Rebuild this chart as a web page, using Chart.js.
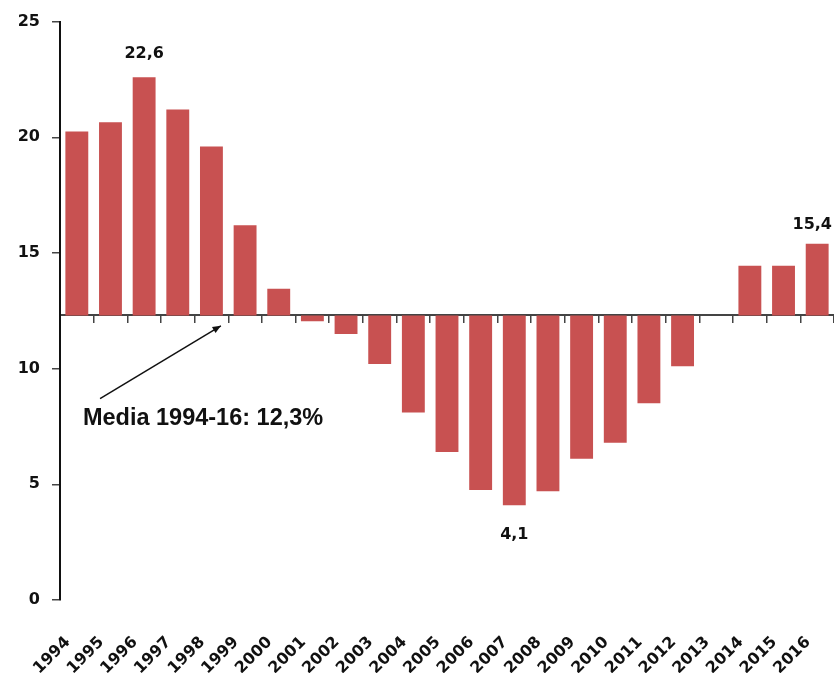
<!DOCTYPE html>
<html>
<head>
<meta charset="utf-8">
<script src="https://cdn.jsdelivr.net/npm/chart.js@4/dist/chart.umd.min.js"></script>
<style>
  html, body { margin: 0; padding: 0; background: #fff; }
  #wrap { width: 834px; height: 673px; }
</style>
</head>
<body>
<div id="wrap"><canvas id="myChart" width="834" height="673"></canvas></div>
<script>
const years = ["1994", "1995", "1996", "1997", "1998", "1999", "2000", "2001",
  "2002", "2003", "2004", "2005", "2006", "2007", "2008", "2009", "2010",
  "2011", "2012", "2013", "2014", "2015", "2016"];
const values = [20.25, 20.65, 22.6, 21.2, 19.6, 16.2, 13.45, 12.05, 11.5, 10.2,
  8.1, 6.4, 4.75, 4.1, 4.7, 6.1, 6.8, 8.5, 10.1, null, 14.45, 14.45, 15.4];
const mean = 12.3;
const yTicks = [0, 5, 10, 15, 20, 25];
const labeledYears = ["1996", "2007", "2016"];
const noteText = "Media 1994-16: 12,3%";

const barColor = "#c85151";
const tickFont = { family: "DejaVu Sans", weight: "bold", size: 16 };

// bars float between the mean and the yearly value
const floating = values.map(function (v) {
  return v === null ? null : [mean, v];
});

const notePlugin = {
  id: "notes",
  afterDraw: function (chart) {
    const ctx = chart.ctx;
    const x = chart.scales.x;
    const y = chart.scales.y;
    ctx.save();

    // value labels
    ctx.font = "bold 16px 'DejaVu Sans'";
    ctx.fillStyle = "#111";
    ctx.textAlign = "center";
    ctx.textBaseline = "middle";
    labeledYears.forEach(function (yr) {
      const i = years.indexOf(yr);
      const v = values[i];
      const txt = v.toFixed(1).replace(".", ",");
      const w = ctx.measureText(txt).width;
      let px = Math.min(x.getPixelForValue(i), chart.width - w / 2 - 2);
      let py;
      if (v >= mean) py = y.getPixelForValue(v) - (i == years.length - 1 ? 19 : 23);
      else py = y.getPixelForValue(v) + 30;
      ctx.fillText(txt, px, py);
    });

    // arrow pointing at the mean line
    const x0 = x.getPixelForValue(0.69), y0 = y.getPixelForValue(8.7);
    const x1 = x.getPixelForValue(4.28), y1 = y.getPixelForValue(11.85);
    ctx.strokeStyle = "#111";
    ctx.lineWidth = 1.5;
    ctx.beginPath();
    ctx.moveTo(x0, y0);
    ctx.lineTo(x1, y1);
    ctx.stroke();
    const ang = Math.atan2(y1 - y0, x1 - x0);
    ctx.beginPath();
    ctx.moveTo(x1, y1);
    ctx.lineTo(x1 - 9 * Math.cos(ang - 0.4), y1 - 9 * Math.sin(ang - 0.4));
    ctx.lineTo(x1 - 9 * Math.cos(ang + 0.4), y1 - 9 * Math.sin(ang + 0.4));
    ctx.closePath();
    ctx.fillStyle = "#111";
    ctx.fill();

    ctx.font = "bold 23.5px 'Liberation Sans'";
    ctx.textAlign = "left";
    ctx.textBaseline = "alphabetic";
    ctx.fillText(noteText, x.getPixelForValue(0.18), y.getPixelForValue(7.55));
    ctx.restore();
  }
};

const config = {
  type: "bar",
  data: {
    labels: years,
    datasets: [
      {
        label: "Valore",
        data: floating,
        backgroundColor: barColor,
        borderWidth: 0,
        barPercentage: 0.68,
        categoryPercentage: 1,
        xAxisID: "x",
        yAxisID: "y",
      },
    ],
  },
  options: {
    responsive: false,
    animation: false,
    layout: { padding: { top: 21, right: 0, left: 0, bottom: 0 } },
    plugins: {
      legend: { display: false },
      tooltip: { enabled: false },
    },
    scales: {
      x: {
        position: "bottom",
        grid: { display: false },
        border: { display: false },
        ticks: {
          color: "#111",
          font: tickFont,
          minRotation: 45,
          maxRotation: 45,
          padding: 25,
          labelOffset: -9,
          autoSkip: false,
        },
        afterFit: function (scale) {
          scale.height = 73;
          scale.paddingLeft = 0;
          scale.paddingRight = 0;
        },
      },
      x2: {
        type: "category",
        labels: years,
        position: { y: mean },
        offset: true,
        z: 1,
        grid: {
          offset: true,
          drawOnChartArea: false,
          tickLength: 7,
          color: "#444",
          lineWidth: 1.5,
        },
        border: { display: true, color: "#444", width: 2 },
        ticks: { display: false },
      },
      y: {
        min: 0,
        max: 25,
        afterBuildTicks: function (scale) {
          scale.ticks = yTicks.map(function (v) { return { value: v }; });
        },
        grid: {
          drawOnChartArea: false,
          tickLength: 8,
          color: "#444",
          lineWidth: 1.5,
        },
        border: { display: true, color: "#111", width: 2 },
        ticks: { color: "#111", font: tickFont, padding: 12 },
        afterFit: function (scale) {
          scale.width = 60;
        },
      },
    },
  },
  plugins: [notePlugin],
};
const myChart = new Chart(document.getElementById("myChart"), config);
</script>
</body>
</html>
